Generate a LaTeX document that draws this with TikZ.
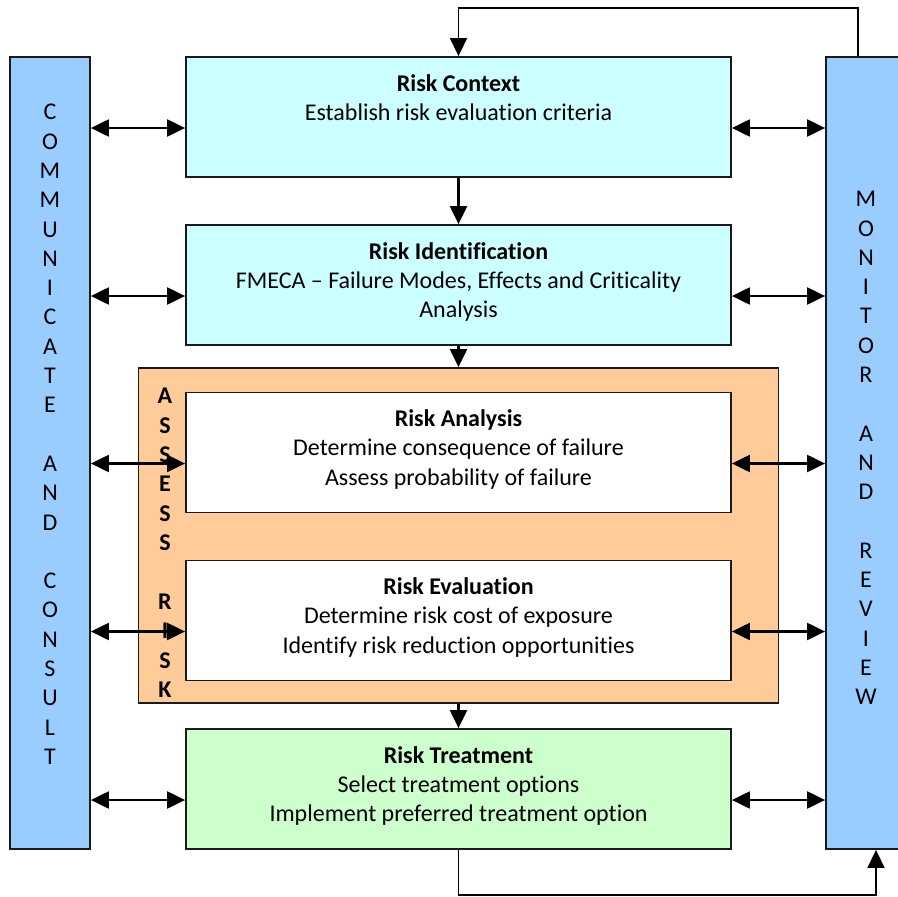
\documentclass[tikz,border=0pt]{standalone}
\usepackage{fontspec}
\setmainfont[Ligatures=CommonOff]{Carlito}
\usepackage[HTML]{xcolor}
\usetikzlibrary{positioning, arrows.meta}

\definecolor{barblue}{HTML}{99CCFF}
\definecolor{riskcyan}{HTML}{CCFFFF}
\definecolor{assessorange}{HTML}{FFCC99}
\definecolor{treatgreen}{HTML}{CCFFCC}
\definecolor{edgeline}{HTML}{1A1A1A}

\tikzset{
  riskbox/.style={draw=edgeline, line width=1.8pt, minimum width=545pt, minimum height=120pt, inner sep=0pt},
  sidebar/.style={draw=edgeline, fill=barblue, line width=1.8pt, minimum width=80pt, minimum height=792pt, inner sep=0pt},
  boxtext/.style={align=center, anchor=north, inner sep=0pt},
  letters/.style={align=center, anchor=north, inner sep=0pt},
  dblarrow/.style={{Triangle[length=18pt,width=17pt]}-{Triangle[length=18pt,width=17pt]}, line width=2.2pt},
  onearrow/.style={-{Triangle[length=18pt,width=17pt]}, line width=2.2pt},
  looparrow/.style={-{Triangle[length=18pt,width=17pt]}, line width=1.6pt}
}

\begin{document}
\begin{tikzpicture}[x=1pt, y=-1pt, every node/.style={font=\fontsize{24}{29.3}\selectfont}]
\useasboundingbox (0,0) rectangle (898,897);

% Side bars
\node[sidebar] (comm) at (50,453) {};
\node[sidebar] (monitor) at (866,453) {};
\node[letters, below=48pt of comm.north] (commtext) {C\\O\\M\\M\\U\\N\\I\\C\\A\\T\\E\\~\\A\\N\\D\\~\\C\\O\\N\\S\\U\\L\\T};
\node[letters, below=135pt of monitor.north] (monitortext) {M\\O\\N\\I\\T\\O\\R\\~\\A\\N\\D\\~\\R\\E\\V\\I\\E\\W};

% Process boxes
\node[riskbox, fill=riskcyan] (context) at (458.5,117) {};
\node[riskbox, fill=riskcyan] (ident) at (458.5,285) {};
\node[draw=edgeline, line width=1.8pt, fill=assessorange, minimum width=640pt, minimum height=335pt, inner sep=0pt] (assess) at (458.5,535.5) {};
\node[riskbox, fill=white] (analysis) at (458.5,452.5) {};
\node[riskbox, fill=white] (evaluation) at (458.5,620.5) {};
\node[riskbox, fill=treatgreen] (treatment) at (458.5,789) {};
\node[letters, font=\fontsize{24}{29.4}\selectfont\bfseries] (assesstext) at (165,388) {A\\S\\S\\E\\S\\S\\~\\R\\I\\S\\K};

% Box texts
\node[boxtext, below=18pt of context.north] (contexttext) {\textbf{Risk Context}\\Establish risk evaluation criteria};
\node[boxtext, below=18pt of ident.north] (identtext) {\textbf{Risk Identification}\\FMECA -- Failure Modes, Effects and Criticality\\Analysis};
\node[boxtext, below=18pt of analysis.north] (analysistext) {\textbf{Risk Analysis}\\Determine consequence of failure\\Assess probability of failure};
\node[boxtext, below=18pt of evaluation.north] (evaluationtext) {\textbf{Risk Evaluation}\\Determine risk cost of exposure\\Identify risk reduction opportunities};
\node[boxtext, below=18pt of treatment.north] (treatmenttext) {\textbf{Risk Treatment}\\Select treatment options\\Implement preferred treatment option};

% Flow down
\draw[onearrow] (context) -- (ident);
\draw[onearrow] (ident) -- (assess);
\draw[onearrow] (assess) -- (treatment);

% Links to the side bars
\foreach \b in {context,ident,analysis,evaluation,treatment} {
  \draw[dblarrow] ([yshift=-11pt]comm.east |- \b.west) -- ([yshift=-11pt]\b.west);
  \draw[dblarrow] ([yshift=-11pt]\b.east) -- ([yshift=-11pt]monitor.west |- \b.east);
}

% Feedback loops
\coordinate (toploop) at (458.5,8);
\coordinate (botloop) at (876,895);
\draw[looparrow] ([xshift=-8pt]monitor.north) |- (toploop) -- (context.north);
\draw[looparrow] (treatment.south) |- (botloop) -- (botloop |- monitor.south);
\end{tikzpicture}
\end{document}
